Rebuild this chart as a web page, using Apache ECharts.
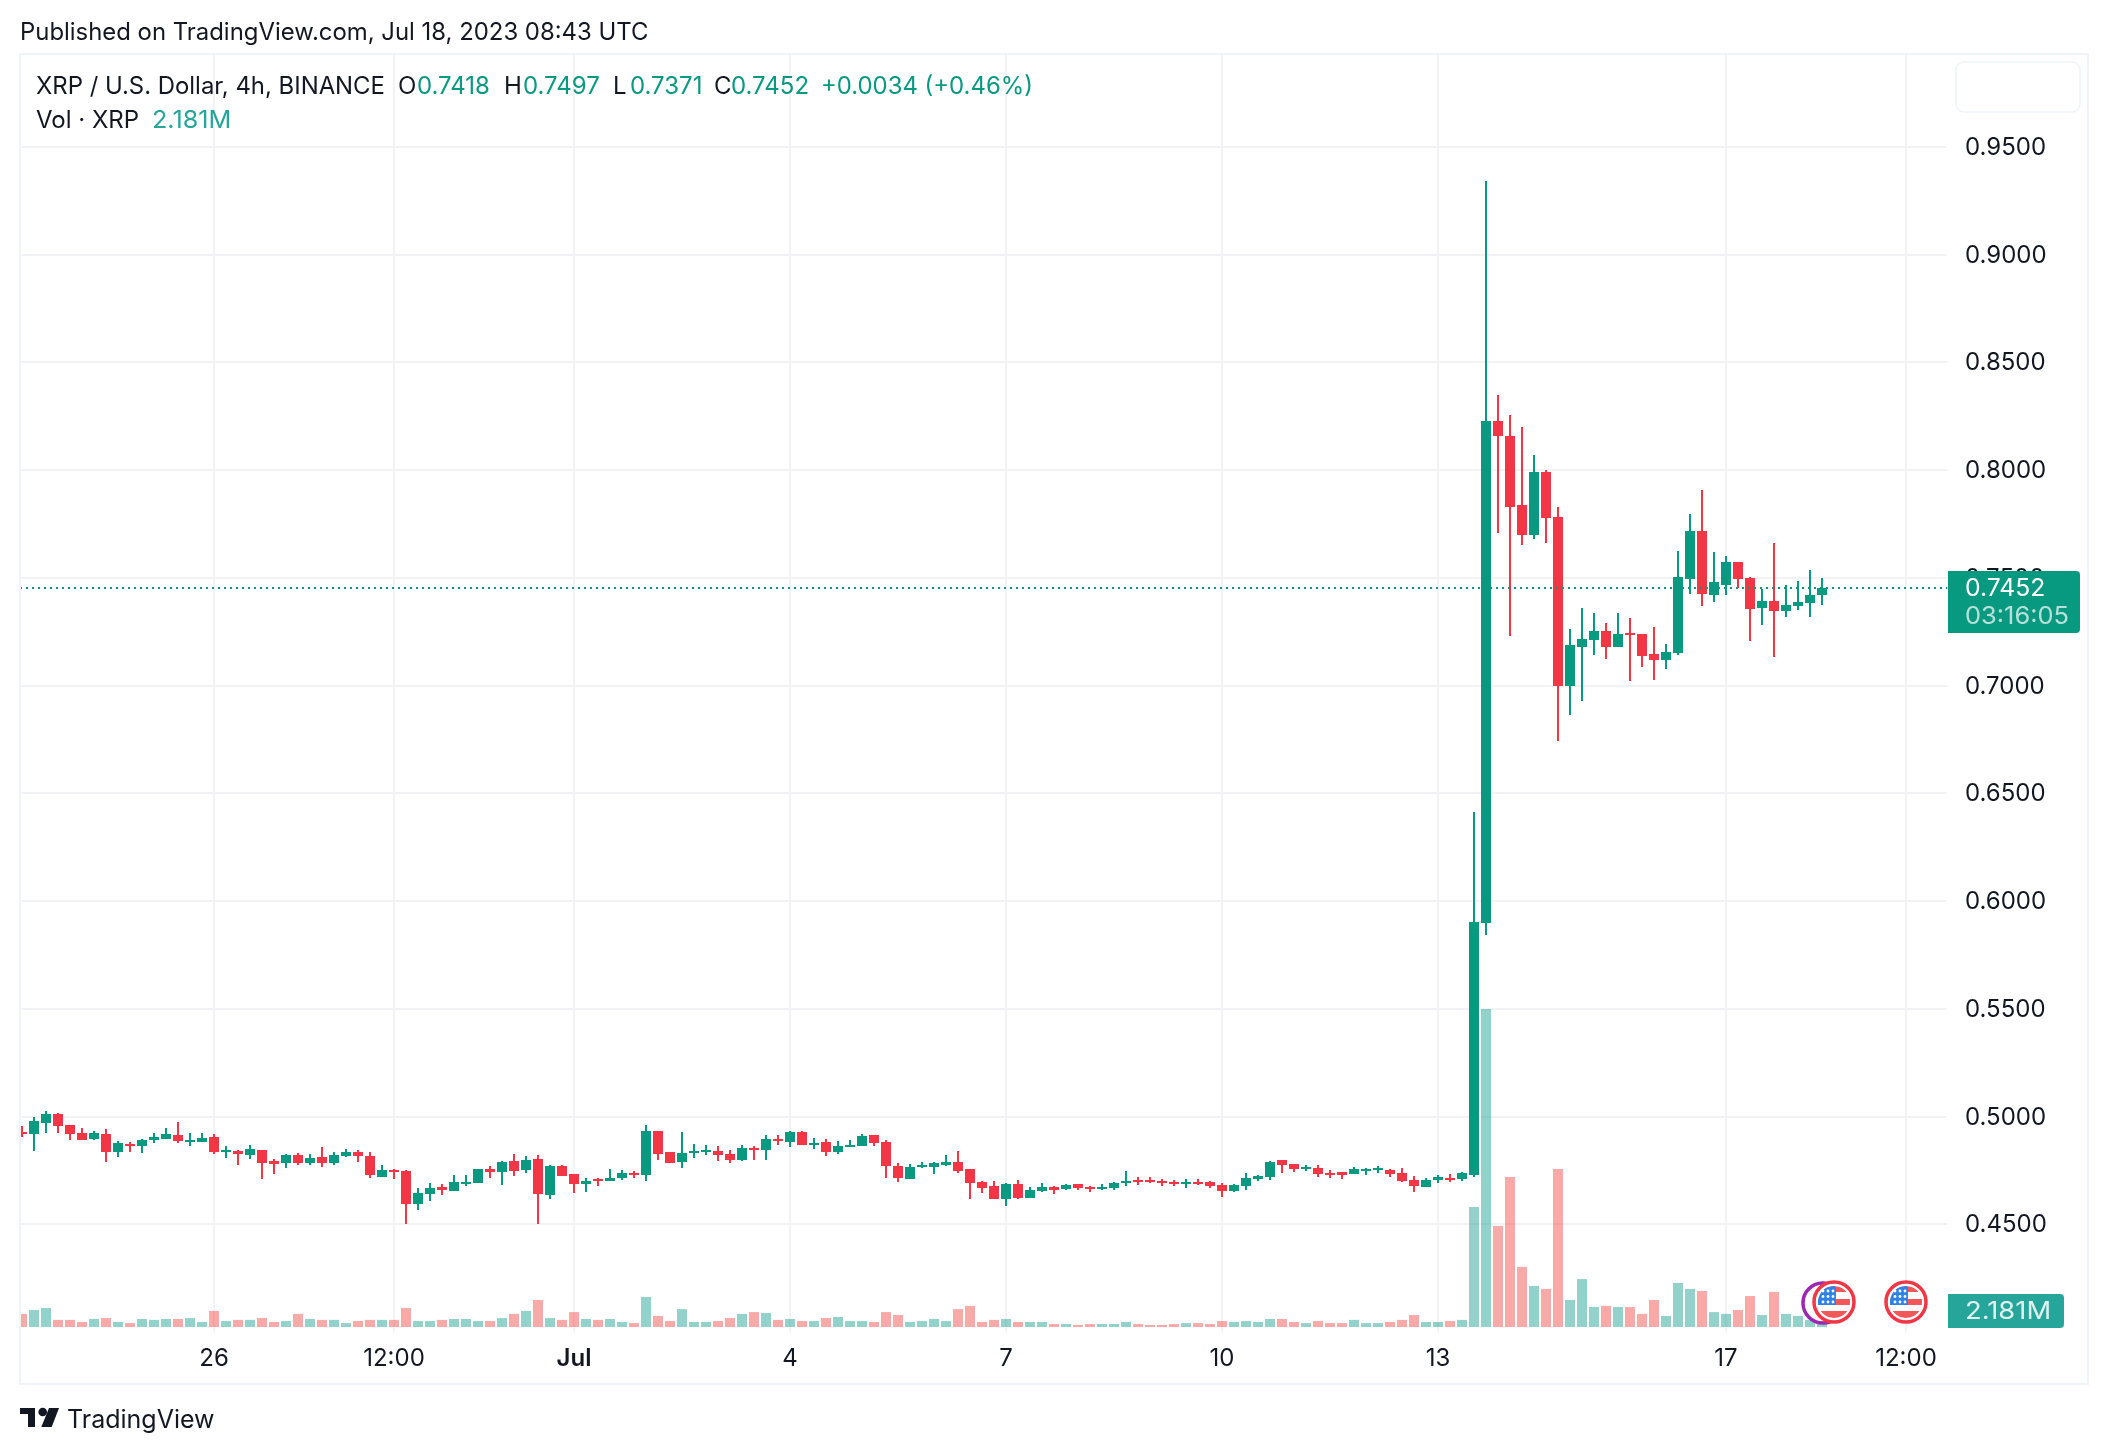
<!DOCTYPE html>
<html>
<head>
<meta charset="utf-8">
<title>XRP / U.S. Dollar, 4h</title>
<script src="https://cdn.jsdelivr.net/npm/echarts@6/dist/echarts.min.js"></script>
<style>
html, body { margin: 0; padding: 0; background: #fff; }
#chart { width: 2108px; height: 1454px; }
</style>
</head>
<body>
<div id="chart"></div>
<script>
const START = Date.UTC(2023, 5, 23, 8), STEP = 4 * 3600 * 1000;
const UP = '#089981', DOWN = '#f23645', INK = '#131722', FONT = 'Inter';

const opens = [
  .4929,.4921,.4971,.5012,.4961,.4924,.4896,.4920,.4836,.4873,
  .4864,.4892,.4896,.4915,.4889,.4883,.4906,.4838,.4841,.4822,
  .4845,.4794,.4785,.4822,.4785,.4813,.4785,.4818,.4836,.4818,
  .4720,.4753,.4748,.4595,.4641,.4674,.4655,.4688,.4692,.4757,
  .4743,.4794,.4753,.4804,.4637,.4771,.4734,.4688,.4709,.4702,
  .4716,.4739,.4729,.4934,.4836,.4790,.4831,.4836,.4841,.4827,
  .4799,.4855,.4845,.4896,.4883,.4929,.4873,.4883,.4836,.4859,
  .4864,.4915,.4883,.4771,.4711,.4765,.4767,.4776,.4790,.4757,
  .4697,.4678,.4618,.4688,.4623,.4655,.4674,.4665,.4688,.4674,
  .4668,.4669,.4692,.4703,.4706,.4702,.4697,.4688,.4697,.4697,
  .4683,.4655,.4678,.4711,.4720,.4799,.4780,.4757,.4762,.4740,
  .4743,.4734,.4748,.4750,.4753,.4739,.4706,.4674,.4706,.4716,
  .4709,.4730,.5899,.8227,.8158,.7838,.7699,.7991,.7782,.6998,
  .7179,.7212,.7253,.7179,.7242,.7239,.7147,.7119,.7151,.7494,
  .7717,.7420,.7467,.7573,.7499,.7360,.7392,.7346,.7369,.7383,
  .7418
];
const closes = [
  .4921,.4980,.5012,.4957,.4920,.4892,.4924,.4836,.4878,.4864,
  .4892,.4906,.4920,.4887,.4893,.4901,.4836,.4845,.4827,.4850,
  .4785,.4780,.4822,.4785,.4808,.4785,.4822,.4836,.4818,.4729,
  .4753,.4745,.4595,.4646,.4669,.4660,.4697,.4697,.4757,.4743,
  .4790,.4748,.4799,.4641,.4771,.4725,.4688,.4702,.4702,.4716,
  .4739,.4729,.4934,.4827,.4785,.4831,.4841,.4845,.4822,.4799,
  .4855,.4845,.4896,.4887,.4929,.4869,.4879,.4836,.4864,.4866,
  .4910,.4878,.4771,.4716,.4767,.4774,.4785,.4790,.4748,.4692,
  .4669,.4618,.4688,.4623,.4660,.4674,.4660,.4683,.4669,.4668,
  .4674,.4692,.4702,.4697,.4697,.4692,.4688,.4697,.4688,.4678,
  .4655,.4683,.4716,.4725,.4790,.4776,.4757,.4765,.4734,.4731,
  .4729,.4757,.4756,.4759,.4734,.4702,.4678,.4706,.4720,.4709,
  .4739,.5904,.8227,.8158,.7828,.7699,.7991,.7777,.6998,.7188,
  .7216,.7253,.7179,.7239,.7233,.7137,.7119,.7156,.7504,.7717,
  .7425,.7481,.7573,.7494,.7355,.7392,.7346,.7374,.7388,.7420,
  .7452
];
const lows = [
  .4906,.4841,.4924,.4924,.4892,.4892,.4892,.4790,.4813,.4836,
  .4831,.4878,.4896,.4878,.4864,.4883,.4827,.4808,.4776,.4804,
  .4711,.4734,.4762,.4776,.4776,.4767,.4776,.4813,.4790,.4716,
  .4720,.4711,.4502,.4567,.4609,.4637,.4655,.4678,.4692,.4716,
  .4683,.4725,.4739,.4502,.4618,.4725,.4646,.4651,.4678,.4702,
  .4706,.4716,.4702,.4799,.4785,.4762,.4808,.4822,.4794,.4785,
  .4794,.4799,.4799,.4869,.4859,.4869,.4850,.4818,.4827,.4859,
  .4864,.4864,.4716,.4697,.4711,.4762,.4734,.4771,.4739,.4618,
  .4646,.4618,.4586,.4618,.4623,.4651,.4641,.4660,.4660,.4651,
  .4660,.4660,.4678,.4683,.4692,.4678,.4678,.4669,.4683,.4669,
  .4627,.4651,.4660,.4702,.4706,.4739,.4743,.4748,.4720,.4716,
  .4711,.4734,.4729,.4739,.4720,.4697,.4651,.4674,.4692,.4697,
  .4702,.4721,.5843,.7708,.7230,.7652,.7680,.7661,.6743,.6864,
  .6929,.7142,.7123,.7179,.7021,.7086,.7026,.7077,.7142,.7425,
  .7369,.7388,.7420,.7453,.7207,.7281,.7133,.7318,.7351,.7318,
  .7371
];
const highs = [
  .4957,.4998,.5026,.5017,.4961,.4947,.4934,.4943,.4887,.4883,
  .4896,.4924,.4947,.4975,.4924,.4924,.4920,.4864,.4845,.4869,
  .4845,.4804,.4827,.4831,.4827,.4859,.4836,.4850,.4845,.4836,
  .4776,.4757,.4753,.4669,.4692,.4688,.4729,.4729,.4757,.4771,
  .4794,.4827,.4818,.4822,.4776,.4776,.4734,.4716,.4716,.4757,
  .4753,.4748,.4961,.4934,.4836,.4929,.4873,.4869,.4864,.4845,
  .4869,.4864,.4915,.4915,.4934,.4934,.4901,.4896,.4887,.4892,
  .4920,.4915,.4892,.4785,.4780,.4790,.4790,.4822,.4841,.4757,
  .4702,.4702,.4692,.4706,.4674,.4692,.4678,.4688,.4688,.4678,
  .4688,.4697,.4748,.4720,.4720,.4711,.4706,.4711,.4711,.4702,
  .4692,.4688,.4739,.4729,.4794,.4799,.4780,.4776,.4776,.4753,
  .4743,.4767,.4762,.4771,.4757,.4762,.4725,.4716,.4729,.4734,
  .4743,.6414,.9341,.8348,.8255,.8199,.8070,.8000,.7828,.7263,
  .7360,.7337,.7290,.7337,.7314,.7239,.7272,.7193,.7624,.7796,
  .7907,.7620,.7601,.7573,.7504,.7448,.7661,.7467,.7485,.7536,
  .7497
];
// volume in millions of XRP
const volumes = [
  5.7,7.4,8.3,3.1,3.1,2.2,3.5,3.9,2.2,1.7,
  3.5,3.1,3.5,3.5,3.9,2.2,7.0,2.6,3.1,3.1,
  3.9,2.2,2.6,5.7,3.5,3.1,3.1,1.7,2.6,3.1,
  3.1,3.1,8.3,2.6,2.6,3.1,3.5,3.5,2.6,2.6,
  3.9,5.7,7.0,11.8,3.9,3.1,6.5,3.5,3.1,3.5,
  2.2,1.7,13.1,4.8,2.6,7.8,2.2,2.2,2.6,3.9,
  5.7,6.5,6.1,3.1,3.5,2.6,2.6,3.9,4.4,2.6,
  2.6,2.2,6.5,5.2,2.2,2.6,3.5,2.6,7.8,9.2,
  2.2,3.1,3.5,2.2,2.2,2.2,1.3,1.3,0.9,1.3,
  1.3,1.3,2.2,1.3,0.9,0.9,1.3,1.7,1.7,1.3,
  2.6,2.2,2.6,2.2,3.5,3.5,2.2,1.7,2.6,1.7,
  1.7,3.1,1.7,1.7,2.2,3.1,5.2,2.2,2.2,2.6,
  3.1,52.3,138.6,44.0,65.4,26.2,17.9,16.6,68.9,11.8,
  20.9,8.7,9.2,8.7,8.7,5.7,11.8,4.8,19.2,16.6,
  15.7,6.5,5.7,7.4,13.5,5.2,15.3,5.7,4.8,3.1,
  2.181
];
const tickDates = ['2023-06-26T00:00Z','2023-06-28T12:00Z','2023-07-01T00:00Z','2023-07-04T00:00Z','2023-07-07T00:00Z','2023-07-10T00:00Z','2023-07-13T00:00Z','2023-07-17T00:00Z','2023-07-19T12:00Z'];
const tickLabels = ['26','12:00','{b|Jul}','4','7','10','13','17','12:00'];
const priceTicks = [0.45,0.5,0.55,0.6,0.65,0.7,0.75,0.8,0.85,0.9,0.95];
const lastClose = 0.7452;

const tickTimes = tickDates.map(d => Date.parse(d));
const candles = opens.map((o, i) => [START + i * STEP, o, closes[i], lows[i], highs[i]]);
const volData = volumes.map((v, i) => ({
  value: [START + i * STEP, v],
  itemStyle: { color: closes[i] >= opens[i] ? 'rgba(15,155,137,.45)' : 'rgba(237,66,62,.45)' }
}));

// drawn as a custom series: the candlestick series forces its wicks onto x.5, which blurs a 2px wick
function renderCandle(params, api)
{
    let t = api.value(0), open = api.value(1), close = api.value(2);
    let x = Math.round(api.coord([t, open])[0]);
    let yOpen = api.coord([t, open])[1], yClose = api.coord([t, close])[1];
    let yLow = Math.round(api.coord([t, api.value(3)])[1]), yHigh = Math.round(api.coord([t, api.value(4)])[1]);
    let top = Math.round(Math.min(yOpen, yClose)), height = Math.max(2, Math.round(Math.abs(yOpen - yClose)));
    let fill = close >= open ? UP : DOWN;
    let body = echarts.graphic.clipRectByRect({ x: x - 5, y: top, width: 10, height: height }, params.coordSys);
    let wick = echarts.graphic.clipRectByRect({ x: x - 1, y: yHigh, width: 2, height: yLow - yHigh }, params.coordSys);
    return { type: 'group', children: [
        { type: 'rect', shape: wick, style: { fill: fill } },
        { type: 'rect', shape: body, style: { fill: fill } }
    ] };
}

// white disk cut by a horizontal band, used for the flag stripes
function band(cx, cy, r, y0, y1, xMax, fill)
{
    let right = [], left = [];
    for(let y = y0; y <= y1; y++)
    {
        let w = Math.sqrt(Math.max(0, r * r - y * y));
        right.push([cx + Math.min(w, xMax), cy + y]);
        left.unshift([cx - w, cy + y]);
    }
    return { type: 'polygon', z: 101, shape: { points: right.concat(left) }, style: { fill: fill } };
}

function flag(cx, cy)
{
    let els = [
        { type: 'circle', z: 100, shape: { cx: cx, cy: cy, r: 20 }, style: { fill: '#fff', stroke: DOWN, lineWidth: 3.5 } },
        band(cx, cy, 16, -16, -10, 16, '#f25858'),
        band(cx, cy, 16, -3, 3, 16, '#f25858'),
        band(cx, cy, 16, 9, 16, 16, '#f25858'),
        band(cx, cy, 16, -16, 3, 2, '#2e83e4')
    ];
    [-11, -5.5, 0].forEach(function(dy){
        [-11, -6, -1].forEach(function(dx){
            els.push({ type: 'circle', z: 102, shape: { cx: cx + dx, cy: cy + dy, r: 1.4 }, style: { fill: '#fff' } });
        });
    });
    return els;
}

function label(x, y, text, color, size, scaleX)
{
    return { type: 'text', z: 103, x: x, y: y, scaleX: scaleX || 1, style: {
        text: text, fill: color || INK, font: (size || 24) + 'px ' + FONT,
        verticalAlign: 'middle'
    } };
}

const header = [
    label(20, 33, 'Published on TradingView.com, Jul 18, 2023 08:43 UTC', INK, 23.9),
    label(36, 87, 'XRP / U.S. Dollar, 4h, BINANCE', INK, 23.9),
    label(398, 87, 'O', INK, 24), label(417, 87, '0.7418', UP, 24),
    label(504, 87, 'H', INK, 24), label(523, 87, '0.7497', UP, 24),
    label(613, 87, 'L', INK, 24), label(630, 87, '0.7371', UP, 24),
    label(714, 87, 'C', INK, 24), label(731, 87, '0.7452', UP, 24),
    label(821, 87, '+0.0034 (+0.46%)', UP, 23.9),
    label(36, 121, 'Vol · XRP', INK, 24),
    label(152, 121, '2.181M', '#26a69a', 24, 1.05)
];

const chrome = [
    { type: 'rect', z: 98, shape: { x: 0, y: 54, width: 20, height: 1330 }, style: { fill: '#fff' } },
    { type: 'rect', z: 99, shape: { x: 20, y: 54, width: 2068, height: 1330 }, style: { fill: 'transparent', stroke: '#f0f3fa', lineWidth: 2 } },
    { type: 'rect', z: 99, shape: { x: 1956, y: 62, width: 124, height: 50, r: 8 }, style: { fill: '#fff', stroke: '#f0f3fa', lineWidth: 1.5 } },
    { type: 'rect', z: 100, shape: { x: 1948, y: 571, width: 132, height: 62, r: [0, 4, 4, 0] }, style: { fill: UP } },
    label(1965, 589, '0.7452', '#fff', 24, 1.03),
    label(1965, 617, '03:16:05', 'rgba(255,255,255,.7)', 24, 1.06),
    { type: 'rect', z: 100, shape: { x: 1948, y: 1294, width: 116, height: 34, r: [0, 4, 4, 0] }, style: { fill: '#26a69a' } },
    label(1965, 1312, '2.181M', 'rgba(255,255,255,.85)', 24, 1.14),
    { type: 'circle', z: 99, shape: { cx: 1823, cy: 1303, r: 20 }, style: { fill: 'transparent', stroke: '#9c27b0', lineWidth: 3.5 } }
].concat(flag(1834, 1302), flag(1906, 1302));

const logo = [
    { type: 'polygon', z: 100, shape: { points: [[20,1408],[35,1408],[35,1427],[28,1427],[28,1414],[20,1414]] }, style: { fill: INK } },
    { type: 'circle', z: 100, shape: { cx: 42.7, cy: 1412, r: 4.3 }, style: { fill: INK } },
    { type: 'polygon', z: 100, shape: { points: [[49,1408],[59,1408],[51.7,1427],[41.3,1427]] }, style: { fill: INK } },
    label(67, 1420.5, 'TradingView', INK, 25)
];

var myChart = echarts.init(document.getElementById('chart'));
var option = {
    animation: false,
    backgroundColor: '#fff',
    textStyle: { fontFamily: FONT },
    grid: { left: 20, top: 55, width: 1927, height: 1277 },
    xAxis: {
        // value axis on epoch ms: the time axis breaks on customValues
        type: 'value',
        min: START - STEP / 6,
        max: START + STEP * 1925 / 12,
        axisLine: { show: false },
        axisTick: { show: false, customValues: tickTimes },
        splitLine: { show: true, lineStyle: { color: '#f3f3f5', width: 2 } },
        axisLabel: {
            customValues: tickTimes,
            margin: 15,
            hideOverlap: false,
            color: INK,
            fontSize: 24,
            fontFamily: FONT,
            formatter: function(value){ return tickLabels[tickTimes.indexOf(value)]; },
            rich: { b: { fontWeight: 600, fontSize: 24, fontFamily: FONT, color: INK } }
        }
    },
    yAxis: [
        {
            type: 'value',
            position: 'right',
            min: 0.4,
            max: 0.9925,
            scale: true,
            axisLine: { show: false },
            axisTick: { show: false, customValues: priceTicks },
            splitLine: { show: true, lineStyle: { color: '#f3f3f5', width: 2 } },
            axisLabel: {
                customValues: priceTicks,
                margin: 18,
                color: INK,
                fontSize: 24,
                fontFamily: FONT,
                formatter: function(value){ return '{p|' + value.toFixed(4) + '}'; },
                rich: { p: { padding: [2, 0, 0, 0], fontSize: 24, fontFamily: FONT, color: INK } }
            }
        },
        { type: 'value', show: false, min: -2.18, max: 554.6, splitLine: { show: false } }
    ],
    series: [
        {
            type: 'bar',
            yAxisIndex: 1,
            barWidth: 10,
            clip: true,
            z: 1,
            data: volData
        },
        {
            type: 'custom',
            name: 'XRP / U.S. Dollar',
            z: 2,
            clip: true,
            renderItem: renderCandle,
            encode: { x: 0, y: [1, 2, 3, 4] },
            data: candles,
            markLine: {
                silent: true,
                symbol: 'none',
                precision: 4,
                label: { show: false },
                lineStyle: { color: UP, type: [2, 4], width: 2 },
                data: [{ yAxis: lastClose }]
            }
        }
    ],
    graphic: { elements: header.concat(chrome, logo) }
};
myChart.setOption(option);
</script>
</body>
</html>
